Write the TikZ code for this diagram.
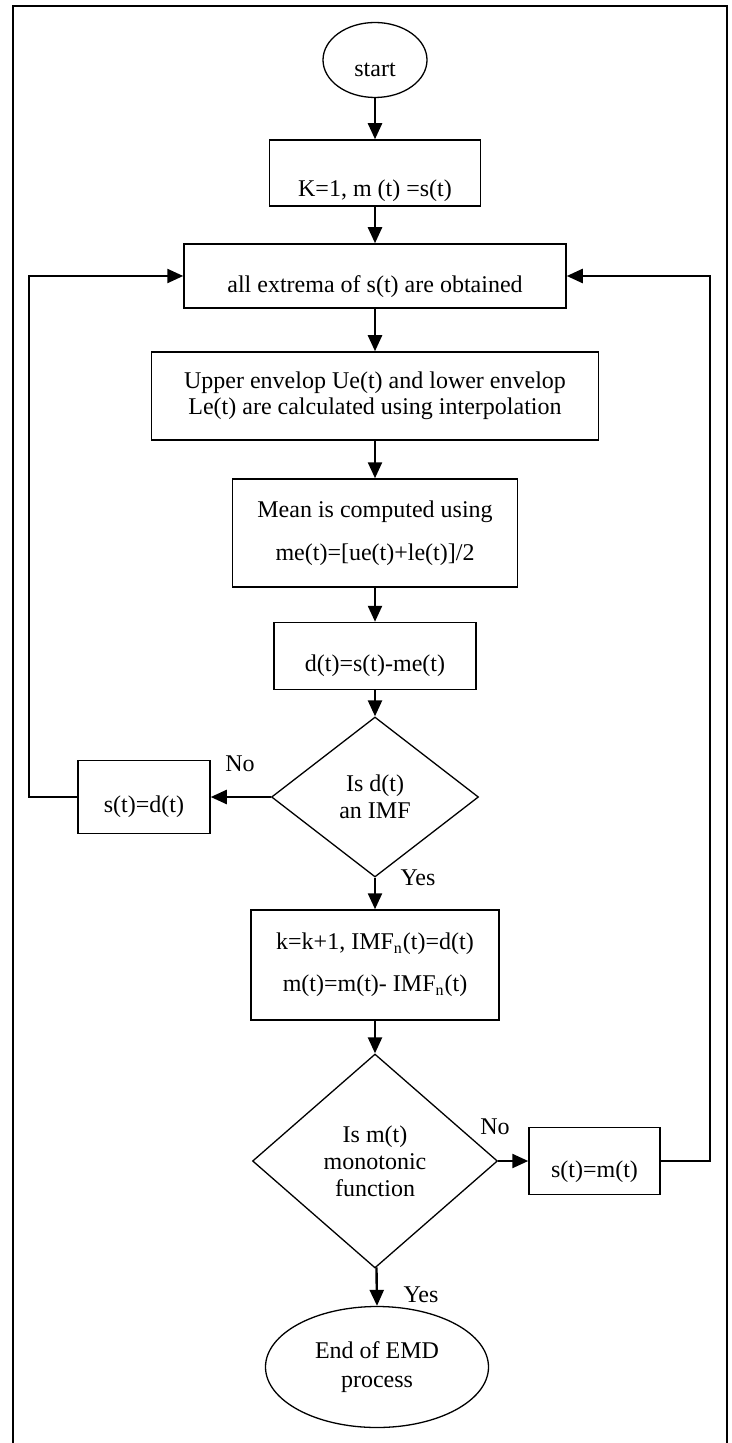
\documentclass[tikz,border=0pt]{standalone}
\usepackage{fontspec}
\setmainfont{Liberation Serif}
\usetikzlibrary{shapes.geometric,arrows.meta}

\begin{document}
\begin{tikzpicture}[x=0.5pt, y=-0.5pt, >={Triangle[length=8pt,width=7pt]},
  font=\fontsize{12}{14}\selectfont,
  procbox/.style={draw, line width=0.75pt, rectangle, align=center, inner sep=1pt},
  decision/.style={draw, line width=0.65pt, diamond, align=center, inner sep=0pt},
  term/.style={draw, line width=0.65pt, ellipse, align=center, inner sep=0pt},
  sunk/.style={execute at begin node={\rule{0pt}{#1}}},
  flow/.style={->, line width=1.2pt},
  lbl/.style={inner sep=0pt}]
  \useasboundingbox (0,0) rectangle (732,1443);
  \draw[line width=0.85pt] (13,1443) -- (13,6) -- (727,6) -- (727,1443);

  \node[term, sunk=17pt, minimum width=52pt, minimum height=37.5pt] (start) at (375,60) {start};
  \node[procbox, sunk=26pt, minimum width=105.5pt, minimum height=33pt] (init) at (375,173) {K=1, m (t) =s(t)};
  \node[procbox, sunk=19pt, minimum width=191pt, minimum height=32pt] (extrema) at (375,276) {all extrema of s(t) are obtained};
  \node[procbox, sunk=20pt, minimum width=223.5pt, minimum height=44pt] (envelop) at (375,396) {Upper envelop Ue(t) and lower envelop\\[-1pt] Le(t) are calculated using interpolation};
  \node[procbox, sunk=19.5pt, minimum width=142.5pt, minimum height=54pt] (mean) at (375,533) {Mean is computed using\\[7.5pt] me(t)=[ue(t)+le(t)]/2};
  \node[procbox, sunk=18pt, minimum width=101pt, minimum height=33.5pt] (detail) at (375,656) {d(t)=s(t)-me(t)};
  \node[decision, sunk=20.5pt, minimum width=103.5pt, minimum height=80pt] (isimf) at (375,797) {Is d(t)\\[-0.5pt] an IMF};
  \node[procbox, sunk=18.5pt, minimum width=66pt, minimum height=36.5pt] (sd) at (144,797) {s(t)=d(t)};
  \node[procbox, sunk=18pt, minimum width=124pt, minimum height=55pt] (update) at (375,965) {k=k+1, IMF\textsubscript{n}(t)=d(t)\\[7pt] m(t)=m(t)- IMF\textsubscript{n}(t)};
  \node[decision, sunk=20pt, minimum width=122.5pt, minimum height=107pt] (ismono) at (375,1161) {Is m(t)\\[-0.5pt] monotonic\\[-0.5pt] function};
  \node[procbox, sunk=19.5pt, minimum width=65.5pt, minimum height=33.5pt] (sm) at (594.5,1161) {s(t)=m(t)};
  \node[term, sunk=19.5pt, minimum width=111.5pt, minimum height=60.5pt] (stop) at (377,1367) {End of EMD\\[0.5pt] process};

  \node[lbl] (no1) at (240,764) {No};
  \node[lbl] (yes1) at (418,878) {Yes};
  \node[lbl] (no2) at (495,1127) {No};
  \node[lbl] (yes2) at (421,1295) {Yes};

  \draw[flow] (start) -- (init);
  \draw[flow] (init) -- (extrema);
  \draw[flow] (extrema) -- (envelop);
  \draw[flow] (envelop) -- (mean);
  \draw[flow] (mean) -- (detail);
  \draw[flow] (detail) -- (isimf);
  \draw[flow] (isimf) -- (sd);
  \draw[flow] (sd.west) -- ++(-48,0) |- (extrema.west);
  \draw[flow] (isimf) -- (update);
  \draw[flow] (update) -- (ismono);
  \draw[flow] (ismono) -- (sm);
  \draw[flow] (sm.east) -- ++(49,0) |- (extrema.east);
  \draw[flow] (ismono) -- (stop.north);
\end{tikzpicture}
\end{document}
